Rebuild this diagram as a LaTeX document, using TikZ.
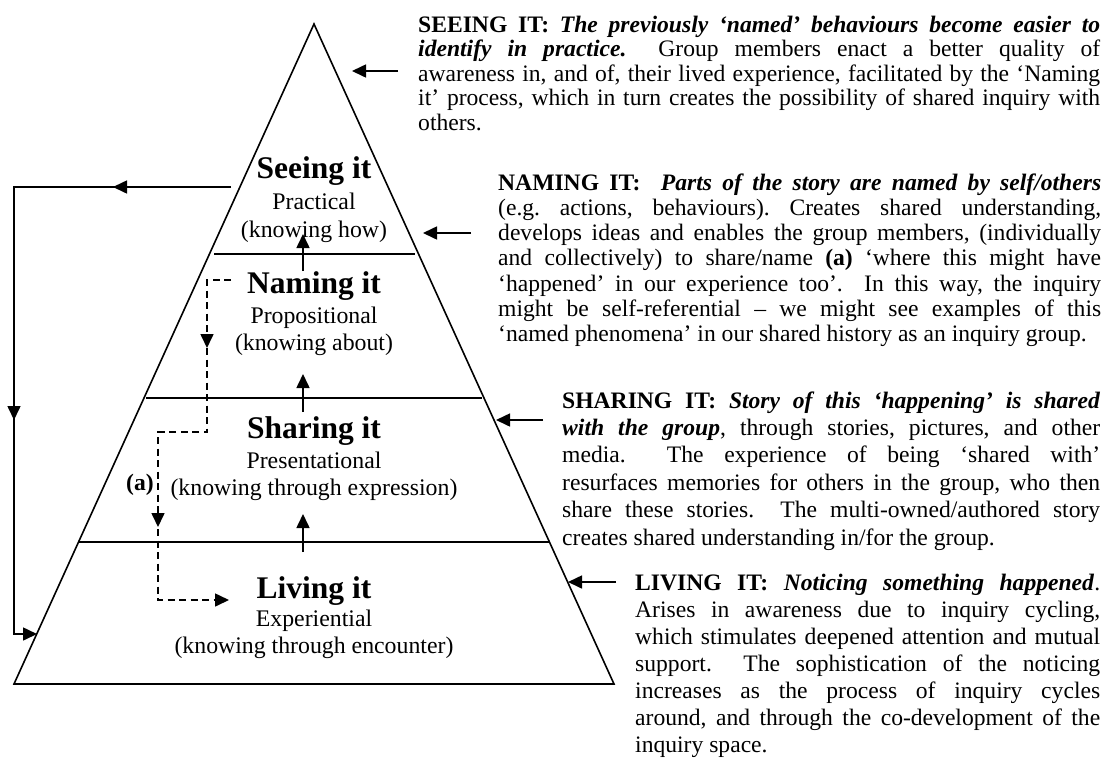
\documentclass[tikz,border=0pt]{standalone}
\usepackage{fontspec}
\setmainfont{Liberation Serif}
\usetikzlibrary{arrows.meta,decorations.markings}
\newcommand{\blockfont}[2]{\fontsize{#1}{#2}\selectfont\lineskiplimit=-100pt\frenchspacing}
\tikzset{
  pyr/.style={line width=1.6pt, line join=miter},
  tip/.tip={Triangle[length=14pt,width=13pt]},
  arr/.style={line width=1.6pt, -{Triangle[length=14pt,width=13pt]}},
  title/.style={font=\fontsize{31.5}{36}\selectfont\bfseries, inner sep=0pt, anchor=base},
  sub/.style={font=\fontsize{23.8}{27}\selectfont, inner sep=0pt, anchor=base},
  desc/.style={inner sep=0pt, anchor=base west},
}
\begin{document}
\begin{tikzpicture}[x=1pt,y=-1pt]
\fill[white] (0,0) rectangle (1107,758);
\useasboundingbox (0,0) rectangle (1107,758);

% pyramid
\coordinate (apex) at (314,24);
\coordinate (bl) at (14,684);
\coordinate (br) at (614,684);
\draw[pyr] (apex) -- (bl) -- (br) -- cycle;
\coordinate (d1l) at (214,254); \coordinate (d1r) at (415,254);
\coordinate (d2l) at (146,398); \coordinate (d2r) at (482,398);
\coordinate (d3l) at (79,542);  \coordinate (d3r) at (550,542);
\draw[pyr] (d1l) -- (d1r);
\draw[pyr] (d2l) -- (d2r);
\draw[pyr] (d3l) -- (d3r);

% level labels
\node[title] (seeT) at (314,178) {Seeing it};
\node[sub]   (seeP) at (314,209) {Practical};
\node[sub]   (seeK) at (314,237) {(knowing how)};
\node[title] (namT) at (314,293) {Naming it};
\node[sub]   (namP) at (314,323) {Propositional};
\node[sub]   (namK) at (314,350) {(knowing about)};
\node[title] (shaT) at (314,438) {Sharing it};
\node[sub]   (shaP) at (314,468) {Presentational};
\node[sub]   (shaK) at (314,495) {(knowing through expression)};
\node[title] (livT) at (314,598) {Living it};
\node[sub]   (livP) at (314,626) {Experiential};
\node[sub]   (livK) at (314,653) {(knowing through encounter)};
\node[inner sep=0pt, anchor=base, font=\fontsize{23.6}{27}\selectfont\bfseries] (alab) at (140,490) {(a)};

% upward arrows
\coordinate (u1a) at (303,271); \coordinate (u1b) at (303,234);
\coordinate (u2a) at (303,412); \coordinate (u2b) at (303,374);
\coordinate (u3a) at (303,552); \coordinate (u3b) at (303,514);
\draw[arr] (u1a) -- (u1b);
\draw[arr] (u2a) -- (u2b);
\draw[arr] (u3a) -- (u3b);

% feedback loop
\coordinate (fa) at (231,187);
\coordinate (fb) at (14,187);
\coordinate (fc) at (14,634);
\coordinate (fd) at (37,634);
\draw[arr, postaction={decorate}, decoration={markings,
   mark=at position 118pt with {\arrow{tip}},
   mark=at position 450pt with {\arrow{tip}}}]
   (fa) -- (fb) -- (fc) -- (fd);

% dashed path (a)
\coordinate (ga) at (231,280);
\coordinate (gb) at (207,280);
\coordinate (gc) at (207,432);
\coordinate (gd) at (158,432);
\coordinate (ge) at (158,600);
\coordinate (gf) at (229,600);
\draw[arr, dash pattern=on 7pt off 4.5pt, postaction={decorate}, decoration={markings,
   mark=at position 92pt with {\arrow{tip}},
   mark=at position 320pt with {\arrow{tip}}}]
   (ga) -- (gb) -- (gc) -- (gd) -- (ge) -- (gf);

% descriptions
\node[desc] (seeing) at (418,32) {\vtop{\blockfont{23.6}{24.5}%
\hbox to 682pt{\textbf{SEEING IT:} \textbf{\textit{The previously `named' behaviours become easier to}}}%
\hbox to 682pt{\textbf{\textit{identify in practice.}}\ \ Group members enact a better quality of}%
\hbox to 682pt{awareness in, and of, their lived experience, facilitated by the `Naming}%
\hbox to 682pt{it' process, which in turn creates the possibility of shared inquiry with}%
\hbox{others.}}};

\node[desc] (naming) at (498,190) {\vtop{\blockfont{23.6}{25.3}%
\hbox to 603pt{\textbf{NAMING IT:}\ \ \textbf{\textit{Parts of the story are named by self/others}}}%
\hbox to 603pt{(e.g. actions, behaviours). Creates shared understanding,}%
\hbox to 603pt{develops ideas and enables the group members, (individually}%
\hbox to 603pt{and collectively) to share/name \textbf{(a)} `where this might have}%
\hbox to 603pt{`happened' in our experience too'.\ \ In this way, the inquiry}%
\hbox to 603pt{might be self-referential -- we might see examples of this}%
\hbox{`named phenomena' in our shared history as an inquiry group.}}};

\node[desc] (sharing) at (562,408) {\vtop{\blockfont{23.6}{27.4}%
\hbox to 538pt{\textbf{SHARING IT:} \textbf{\textit{Story of this `happening' is shared}}}%
\hbox to 538pt{\textbf{\textit{with the group}}, through stories, pictures, and other}%
\hbox to 538pt{media.\ \ The experience of being `shared with'}%
\hbox to 538pt{resurfaces memories for others in the group, who then}%
\hbox to 538pt{share these stories.\ \ The multi-owned/authored story}%
\hbox{creates shared understanding in/for the group.}}};

\node[desc] (living) at (635,590) {\vtop{\blockfont{23.6}{27.1}%
\hbox to 465pt{\textbf{LIVING IT:} \textbf{\textit{Noticing something happened}}.}%
\hbox to 465pt{Arises in awareness due to inquiry cycling,}%
\hbox to 465pt{which stimulates deepened attention and mutual}%
\hbox to 465pt{support.\ \ The sophistication of the noticing}%
\hbox to 465pt{increases as the process of inquiry cycles}%
\hbox to 465pt{around, and through the co-development of the}%
\hbox{inquiry space.}}};

% pointer arrows from descriptions to pyramid
\coordinate (sa) at (398,71);  \coordinate (sb) at (352,71);
\coordinate (na) at (471,233); \coordinate (nb) at (423,233);
\coordinate (ha) at (543,420); \coordinate (hb) at (496,420);
\coordinate (la) at (616,582); \coordinate (lb) at (568,582);
\draw[arr] (sa) -- (sb);
\draw[arr] (na) -- (nb);
\draw[arr] (ha) -- (hb);
\draw[arr] (la) -- (lb);
\end{tikzpicture}
\end{document}
